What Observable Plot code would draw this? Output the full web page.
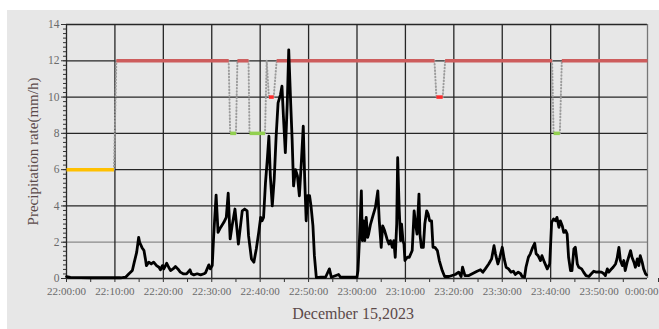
<!DOCTYPE html>
<html>
<head>
<meta charset="utf-8">
<script src="https://cdn.jsdelivr.net/npm/d3@7"></script>
<script src="https://cdn.jsdelivr.net/npm/@observablehq/plot@0.6"></script>
<style>
  html, body { margin: 0; padding: 0; background: #ffffff; }
  #wrap { position: relative; width: 659px; height: 329px; overflow: hidden; background: #ffffff; }
  #panel { position: absolute; left: 7px; top: 10px; width: 652px; height: 319px; background: #e7e7e7; }
  #chart { position: absolute; left: 0; top: 0; }
</style>
</head>
<body>
<div id="wrap"><div id="panel"></div><div id="chart"></div></div>
<script>
// Minutes after 22:00:00 on December 15, 2023
const minutes = [0,0.8,2.9,5.0,7.0,9.1,11.2,12.2,12.9,13.6,14.0,14.5,14.9,15.1,15.6,16.0,16.3,16.5,17.0,17.5,18.0,18.6,19.1,19.4,19.8,20.1,20.7,21.1,21.5,22.0,22.5,23.0,23.5,24.1,24.8,25.5,25.8,26.3,27.0,27.7,28.4,28.7,29.4,29.7,30.1,30.4,30.9,31.3,31.8,32.5,33.0,33.4,33.8,34.2,34.8,35.2,35.5,35.9,36.3,36.8,37.3,37.6,38.2,38.7,39.2,39.7,40.1,40.4,40.7,41.1,41.5,41.8,42.1,42.5,42.9,43.3,43.7,44.2,44.5,44.8,45.2,45.6,45.9,46.3,46.6,46.9,47.3,47.7,48.1,48.5,48.9,49.2,49.5,49.8,50.2,50.5,50.9,51.2,51.6,52.5,53.5,54.3,54.7,56.2,56.6,58.2,60.0,60.2,60.5,60.9,61.1,61.4,61.6,61.9,62.2,62.4,62.8,63.3,63.8,64.3,64.6,65.0,65.3,65.7,66.2,66.6,66.9,67.3,67.6,67.9,68.2,68.4,68.7,69.0,69.2,69.5,69.7,69.9,70.4,70.8,71.4,71.8,72.1,72.4,72.8,73.0,73.3,73.7,74.0,74.4,74.7,75.0,75.4,75.7,76.1,76.6,77.0,77.6,78.1,79.0,80.3,81.0,81.5,81.8,82.3,83.1,83.8,84.8,85.5,86.0,86.5,87.2,87.8,88.3,88.6,89.1,89.5,90.0,90.4,90.8,91.3,91.8,92.3,92.7,93.3,93.8,94.1,94.6,94.9,95.4,95.8,96.3,96.7,97.0,97.4,97.9,98.2,98.7,99.3,99.8,100.2,100.6,101.0,101.3,101.7,102.0,102.4,102.7,103.1,103.4,103.7,104.1,104.4,104.8,105.1,105.5,105.8,106.4,106.8,107.3,107.9,108.4,108.9,109.4,109.9,110.5,111.0,111.3,111.7,112.0,112.4,112.9,113.4,113.7,114.1,114.4,114.8,115.1,115.4,115.8,116.1,116.5,116.8,117.2,117.5,117.9,118.2,118.5,118.9,119.2,119.6,119.8];
const rate = [0.1,0.06,0.05,0.04,0.05,0.04,0.04,0.07,0.26,0.44,0.9,1.45,2.27,2.0,1.7,1.54,1.08,0.71,0.9,0.8,0.9,0.71,0.62,0.48,0.71,0.53,0.84,0.62,0.44,0.53,0.66,0.53,0.35,0.26,0.26,0.48,0.26,0.2,0.26,0.2,0.26,0.31,0.75,0.53,0.71,2.36,4.6,2.54,2.8,3.1,3.37,4.7,2.18,2.9,3.83,2.73,1.9,2.82,3.73,3.83,3.73,2.36,1.08,0.9,1.63,2.54,3.37,3.18,3.37,5.29,6.66,7.85,5.65,4.0,5.47,7.85,9.68,10.14,10.6,8.95,6.94,9.68,12.6,9.68,7.67,5.1,6.0,5.65,4.56,6.39,8.4,5.47,3.18,4.56,4.56,4.0,2.9,1.26,0.05,0.07,0.07,0.53,0.07,0.22,0.07,0.07,0.07,0.44,2.09,4.83,2.09,3.18,2.09,3.37,2.27,2.45,3.0,3.46,3.92,4.83,3.18,1.72,2.9,2.64,2.18,1.9,2.09,1.72,2.09,1.17,3.0,6.66,3.92,2.09,3.0,2.09,1.9,0.99,1.17,1.17,1.54,3.73,3.0,2.45,4.65,2.45,1.72,1.72,3.0,3.73,3.55,3.18,3.18,1.72,1.72,1.54,0.99,0.44,0.11,0.11,0.22,0.35,0.11,0.62,0.16,0.16,0.26,0.4,0.48,0.35,0.53,0.8,1.08,1.81,1.36,0.8,1.17,1.72,1.08,0.62,0.53,0.35,0.4,0.22,0.35,0.26,0.11,0.07,0.62,1.17,1.36,1.72,1.94,1.36,1.26,0.99,1.26,0.9,0.53,0.8,3.1,3.28,3.18,3.37,2.82,3.18,2.9,2.54,2.64,2.45,1.17,0.44,0.44,1.63,1.72,0.8,0.62,0.53,0.35,0.16,0.11,0.26,0.4,0.35,0.37,0.35,0.26,0.16,0.53,0.35,0.48,0.62,0.8,1.08,1.72,0.99,0.71,0.99,0.44,0.9,1.17,1.54,1.17,0.9,0.62,1.08,0.71,1.26,0.9,0.53,0.26,0.2];

// Status steps (level segments), minutes after 22:00
const segStart = [0, 10.3, 33.8, 35.3, 37.8, 41.35, 41.8, 43.4, 76.4, 78.2, 100.6, 102.3];
const segEnd   = [9.8, 33.5, 35.0, 37.6, 41.0, 41.35, 42.8, 76.0, 77.7, 100.3, 101.9, 120];
const segLevel = [6, 12, 8, 12, 8, 12, 10, 12, 10, 12, 8, 12];
const levelNames = [6, 8, 10, 12];
const levelColors = ["#ffc000", "#92d050", "#ff2a2a", "#cd5c5c"];

const xTicks = d3.range(0, 121, 10);
const xMinor = d3.range(5, 120, 10);
const yTicks = d3.range(0, 15, 2);
const yMinor = d3.range(0, 14.01, 0.25);
const xTitle = "December 15,2023";
const yTitle = "Precipitation rate(mm/h)";

const series = minutes.map((m, i) => ({m, v: rate[i]}));
const segs = segStart.map((s, i) => ({s, e: segEnd[i], lv: segLevel[i]}));
const links = segs.slice(1).map((d, i) => ({x1: segs[i].e, y1: segs[i].lv, x2: d.s, y2: d.lv}));
const colorOf = lv => levelColors[levelNames.indexOf(lv)];

const fmt = m => {
  const h = (22 + Math.floor(m / 60)) % 24;
  const mm = String(m % 60).padStart(2, "0");
  return `${h}:${mm}:00`;
};

const serif = "'Liberation Serif', 'DejaVu Serif', serif";

const chart = Plot.plot({
  width: 659,
  height: 329,
  marginLeft: 66,
  marginRight: 12,
  marginTop: 24,
  marginBottom: 51,
  style: {background: "transparent", fontFamily: serif, fontSize: "11px"},
  x: {type: "linear", domain: [0, 120]},
  y: {domain: [0, 14]},
  marks: [
    Plot.ruleY(yTicks, {stroke: d => d === 2 ? "#8a8a8a" : "#262626", strokeWidth: 1.3}),
    Plot.ruleX(xTicks, {stroke: d => d === 120 ? "#777" : "#262626", strokeWidth: 1.3}),
    Plot.axisY({ticks: yMinor, tickSize: 3, text: null, stroke: "#333"}),
    Plot.axisY({ticks: yTicks, tickSize: 5, tickPadding: 2, fill: "#6a6a6a", stroke: "#333", fontSize: 11.5, label: null}),
    Plot.axisX({ticks: xMinor, tickSize: 4, text: null, stroke: "#333"}),
    Plot.axisX({ticks: xTicks.slice(0, -1), tickSize: 4, tickPadding: 5, tickFormat: fmt, fill: "#6a6a6a", stroke: "#333", fontSize: 11, label: null}),
    Plot.axisX({ticks: xTicks.slice(-1), tickSize: 4, tickPadding: 5, tickFormat: fmt, fill: "#6a6a6a", stroke: "#333", fontSize: 11, label: null, textAnchor: "end", dx: 11}),
    Plot.link(links, {x1: "x1", y1: "y1", x2: "x2", y2: "y2", stroke: "#9c9c9c", strokeWidth: 2, strokeDasharray: "0.6 2.6", strokeLinecap: "round"}),
    Plot.link(segs, {x1: "s", x2: "e", y1: "lv", y2: "lv", stroke: d => colorOf(d.lv), strokeWidth: 3.5, strokeLinecap: "butt"}),
    Plot.line(series, {x: "m", y: "v", stroke: "#000", strokeWidth: 2.8, strokeLinejoin: "round"}),
    Plot.text([yTitle], {frameAnchor: "left", textAnchor: "middle", dx: -33, rotate: -90, fontSize: 15, fill: "#5b4a4a", fontFamily: serif}),
    Plot.text([xTitle], {frameAnchor: "bottom", dx: -4, dy: 40, fontSize: 16, fill: "#5b4a4a", fontFamily: serif})
  ]
});
document.getElementById("chart").appendChild(chart);
</script>
</body>
</html>
